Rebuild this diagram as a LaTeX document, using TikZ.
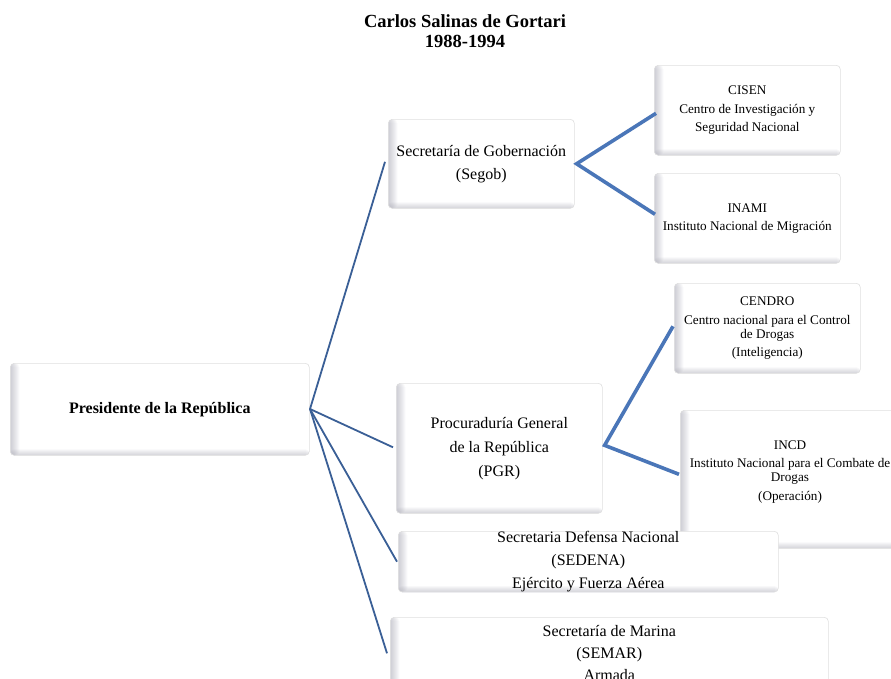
\documentclass[tikz,border=0pt]{standalone}
\usepackage{fontspec}
\setmainfont{Liberation Serif}
\definecolor{linkdark}{HTML}{3A5F96}
\definecolor{linkblue}{HTML}{4A76B8}
\definecolor{shadecol}{RGB}{120,120,140}
\tikzset{
  card/.style={draw=black!12, fill=white, rounded corners=4pt, line width=0.6pt,
    anchor=north west, inner sep=0pt, align=center,
    path picture={
      \foreach \i in {1,...,9}{
        \fill[shadecol, opacity=0.045]
          (path picture bounding box.south west) rectangle ([xshift=\i pt]path picture bounding box.north west);
      }
      \foreach \i in {1,...,6}{
        \fill[shadecol, opacity=0.05]
          (path picture bounding box.south west) rectangle ([yshift=\i pt]path picture bounding box.south east);
      }
    }},
  big/.style={font=\fontsize{16}{19}\selectfont},
  small/.style={font=\fontsize{13.2}{14}\selectfont},
  thinlink/.style={draw=linkdark, line width=1.8pt},
  thicklink/.style={draw=linkblue, line width=3.6pt, line join=miter},
}
\begin{document}
\begin{tikzpicture}[x=1pt,y=-1pt]
\clip (0,0) rectangle (891,678);
\fill[white] (0,0) rectangle (891,678);

\node[font=\fontsize{18.5}{20}\selectfont\bfseries, align=center] (title) at (465,31)
  {Carlos Salinas de Gortari\\1988-1994};

% boxes
\node[card, minimum width=299pt, minimum height=92pt, font=\fontsize{16}{18}\selectfont\bfseries] (pres) at (10,363)
  {Presidente de la República};
\node[card, big, minimum width=186pt, minimum height=89pt] (segob) at (388,119)
  {Secretaría de Gobernación\\[4pt](Segob)};
\node[card, small, minimum width=186pt, minimum height=90pt] (cisen) at (654,65)
  {CISEN\\[5pt]Centro de Investigación y\\[4pt]Seguridad Nacional};
\node[card, small, minimum width=186pt, minimum height=90pt] (inami) at (654,173)
  {INAMI\\[4pt]Instituto Nacional de Migración};
\node[card, small, minimum width=186pt, minimum height=90pt] (cendro) at (674,283)
  {CENDRO\\[5pt]Centro nacional para el Control\\de Drogas\\[4pt](Inteligencia)};
\node[card, minimum width=222pt, minimum height=138pt] (incd) at (680,410) {};
\node[small, align=center] (incdtext) at (790,472)
  {INCD\\[4pt]Instituto Nacional para el Combate de\\Drogas\\[5pt](Operación)};
\node[card, big, minimum width=206pt, minimum height=130pt] (pgr) at (396,383)
  {Procuraduría General\\[5pt]de la República\\[5pt](PGR)};
\node[card, big, minimum width=380pt, minimum height=59pt] (sedena) at (398,531)
  {Secretaria Defensa Nacional\\[4pt](SEDENA)\\[4pt]Ejército y Fuerza Aérea};
\node[card, big, minimum width=438pt, minimum height=72pt] (semar) at (390,617)
  {Secretaría de Marina\\[3pt](SEMAR)\\[3pt]Armada};

% connectors
\coordinate (hub) at (310,409);
\draw[thinlink] (hub) -- ([xshift=-3pt,yshift=2pt]segob.west);
\draw[thinlink] (hub) -- ([xshift=-3pt,yshift=1pt]pgr.west);
\draw[thinlink] (hub) -- ([xshift=-1pt]sedena.west);
\draw[thinlink] (hub) -- ([xshift=-3pt]semar.west);

\draw[thicklink] ([xshift=2pt,yshift=-3pt]cisen.west) -- ([xshift=2pt]segob.east) -- ([xshift=1pt,yshift=4pt]inami.west);
\draw[thicklink] ([xshift=-1pt,yshift=2pt]cendro.west) -- ([xshift=2pt,yshift=3pt]pgr.east) -- ([xshift=-1pt,yshift=5pt]incd.west);
\end{tikzpicture}
\end{document}
